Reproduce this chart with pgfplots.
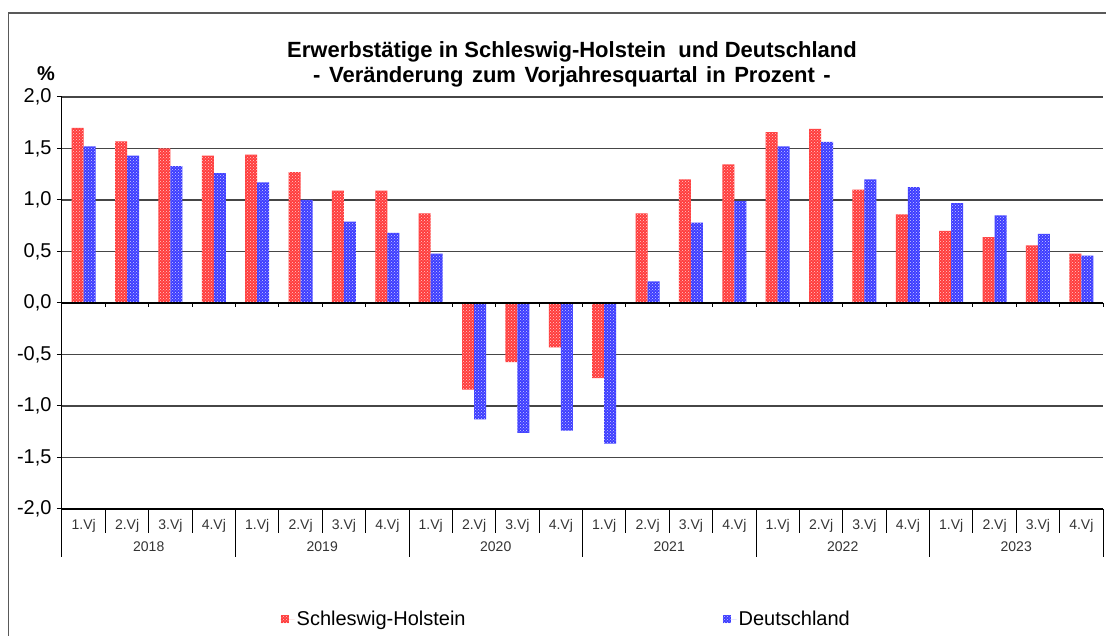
\documentclass[border=0pt]{standalone}
\usepackage{pgfplots}
\pgfplotsset{compat=1.18}
\usepackage{pgfplotstable}
\usepackage{fontspec}
\setmainfont{Liberation Sans}
\usetikzlibrary{patterns,calc}
\definecolor{shred}{RGB}{255,60,60}
\definecolor{deblue}{RGB}{60,60,255}
\definecolor{gridgray}{RGB}{70,70,70}

\pgfplotstableread{
x sh de
0 1.70 1.52
1 1.57 1.43
2 1.50 1.33
3 1.43 1.26
4 1.44 1.17
5 1.27 1.00
6 1.09 0.79
7 1.09 0.68
8 0.87 0.48
9 -0.84 -1.13
10 -0.575 -1.26
11 -0.43 -1.24
12 -0.73 -1.365
13 0.87 0.21
14 1.20 0.78
15 1.345 0.99
16 1.66 1.52
17 1.69 1.565
18 1.10 1.20
19 0.86 1.125
20 0.70 0.97
21 0.64 0.85
22 0.56 0.67
23 0.48 0.46
}\datatable

\begin{document}
\begin{tikzpicture}
\begin{axis}[
  width=1041pt, height=412pt, scale only axis,
  xmin=-0.5, xmax=23.5, ymin=-2, ymax=2,
  ybar=0pt, bar width=12pt,
  axis lines=left, axis line style={-, black, line width=1pt},
  ytick={-2,-1.5,...,2},
  ymajorgrids, grid style={gridgray, line width=1.2pt},
  tick align=outside, major tick length=5pt,
  ytick style={black, line width=1pt},
  xtick={0,...,23}, xtick style={draw=none},
  xticklabels={1.Vj,2.Vj,3.Vj,4.Vj,1.Vj,2.Vj,3.Vj,4.Vj,1.Vj,2.Vj,3.Vj,4.Vj,1.Vj,2.Vj,3.Vj,4.Vj,1.Vj,2.Vj,3.Vj,4.Vj,1.Vj,2.Vj,3.Vj,4.Vj},
  xticklabel style={font=\fontsize{14}{16}\selectfont, text=black!80, anchor=center, yshift=-12pt},
  yticklabel style={font=\fontsize{20}{22}\selectfont, xshift=-2pt},
  /pgf/number format/.cd, fixed, fixed zerofill, precision=1, use comma, assume math mode=true,
  /pgfplots/.cd,
  clip=false,
  legend columns=2,
  legend style={at={(0.207,-0.267)}, anchor=west, draw=none, fill=none,
    font=\fontsize{20}{24}\selectfont,
    /tikz/every even column/.append style={column sep=255pt},
    nodes={inner sep=2pt}},
  legend image code/.code={\path[#1] (0pt,-4pt) rectangle (8pt,4pt); \path (0pt,0pt) -- (14pt,0pt);},
]
\addplot[fill=shred, draw=none, postaction={pattern=crosshatch dots, pattern color=white!75!shred}] table[x=x,y=sh] {\datatable};
\addlegendentry{Schleswig-Holstein}
\addplot[fill=deblue, draw=none, postaction={pattern=crosshatch dots, pattern color=white!75!deblue}] table[x=x,y=de] {\datatable};
\addlegendentry{Deutschland}
\coordinate (A) at (rel axis cs:0,0);
\draw[black, line width=1.3pt] (axis cs:-0.5,0) -- (axis cs:23.5,0);
\draw[black, line width=1.3pt] (axis cs:-0.5,-2) -- (axis cs:23.5,-2);
\pgfplotsinvokeforeach{0.5,1.5,2.5,3.5,4.5,5.5,6.5,7.5,8.5,9.5,10.5,11.5,12.5,13.5,14.5,15.5,16.5,17.5,18.5,19.5,20.5,21.5,22.5,23.5}{
  \draw[black, line width=1pt] (axis cs:#1,0) -- ++(0pt,-4pt);
}
\pgfplotsinvokeforeach{0.5,1.5,2.5,4.5,5.5,6.5,8.5,9.5,10.5,12.5,13.5,14.5,16.5,17.5,18.5,20.5,21.5,22.5}{
  \draw[black, line width=1pt] (axis cs:#1,-2) -- ++(0pt,-24pt);
}
\pgfplotsinvokeforeach{-0.5,3.5,7.5,11.5,15.5,19.5,23.5}{
  \draw[black, line width=1pt] (axis cs:#1,-2) -- ++(0pt,-48pt);
}
\node[font=\fontsize{14}{16}\selectfont, text=black!80] at (axis cs:1.5,-2) [yshift=-38pt] {2018};
\node[font=\fontsize{14}{16}\selectfont, text=black!80] at (axis cs:5.5,-2) [yshift=-38pt] {2019};
\node[font=\fontsize{14}{16}\selectfont, text=black!80] at (axis cs:9.5,-2) [yshift=-38pt] {2020};
\node[font=\fontsize{14}{16}\selectfont, text=black!80] at (axis cs:13.5,-2) [yshift=-38pt] {2021};
\node[font=\fontsize{14}{16}\selectfont, text=black!80] at (axis cs:17.5,-2) [yshift=-38pt] {2022};
\node[font=\fontsize{14}{16}\selectfont, text=black!80] at (axis cs:21.5,-2) [yshift=-38pt] {2023};
\end{axis}
\begin{scope}[shift={(A)}, x=1pt, y=1pt]
\begin{scope}[shift={(-62,-127)}]
\draw[black!65, line width=1.5pt] (8.75,0) -- (8.75,623) -- (1106,623);
\node[font=\fontsize{22}{25}\selectfont\bfseries, align=center] at (572,571.5)
  {Erwerbstätige in Schleswig-Holstein\ \ und Deutschland\\{\spaceskip=8.5pt\relax - Veränderung zum Vorjahresquartal in Prozent -}};
\node[font=\fontsize{20}{22}\selectfont\bfseries] at (46,562) {\%};
\pgfresetboundingbox
\path[use as bounding box] (0,0) rectangle (1106,636);
\end{scope}
\end{scope}
\end{tikzpicture}
\end{document}
